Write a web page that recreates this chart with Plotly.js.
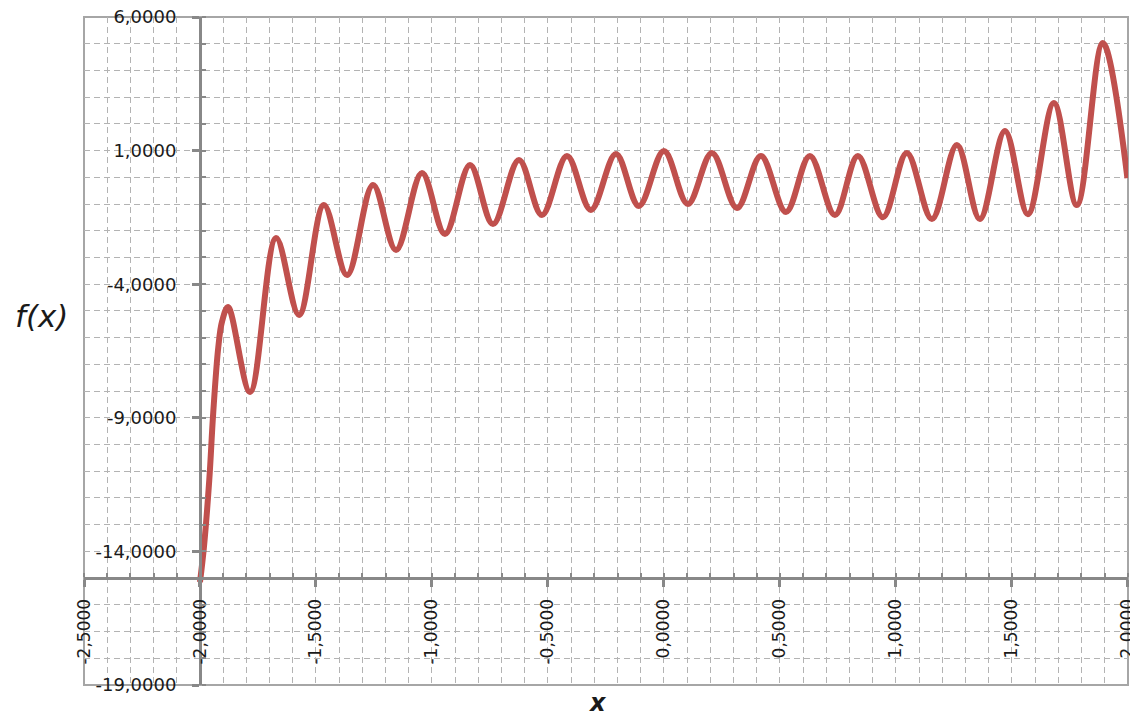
<!DOCTYPE html>
<html>
<head>
<meta charset="utf-8">
<script src="https://cdn.plot.ly/plotly-3.0.1.min.js"></script>
<style>
  html, body { margin: 0; padding: 0; background: #ffffff; }
  #chart { width: 1130px; height: 717px; }
</style>
</head>
<body>
<div id="chart"></div>
<script>
// ---- data ----
const xValues = [
  -2.000, -1.983, -1.960, -1.943, -1.921, -1.905, -1.879,
  -1.784, -1.672, -1.573, -1.466, -1.366, -1.254, -1.155,
  -1.043, -0.944, -0.836, -0.737, -0.625, -0.526, -0.418,
  -0.315, -0.207, -0.108, 0.000, 0.103, 0.207, 0.315,
  0.418, 0.526, 0.629, 0.737, 0.836, 0.944, 1.047,
  1.155, 1.263, 1.362, 1.470, 1.569, 1.681, 1.780,
  1.892, 1.998
];
const fValues = [
  -15.15, -13.84, -11.33, -8.82, -6.35, -5.40, -4.85,
  -8.03, -2.27, -5.15, -1.04, -3.66, -0.29, -2.72,
  0.16, -2.12, 0.46, -1.75, 0.65, -1.41, 0.80,
  -1.22, 0.87, -1.07, 0.985, -1.00, 0.91, -1.15,
  0.80, -1.30, 0.80, -1.41, 0.80, -1.49, 0.91,
  -1.56, 1.21, -1.56, 1.73, -1.38, 2.78, -1.04,
  5.03, -0.03
];

const xTickVals = [-2.5, -2.0, -1.5, -1.0, -0.5, 0.0, 0.5, 1.0, 1.5, 2.0];
const xTickText = ["-2,5000", "-2,0000", "-1,5000", "-1,0000", "-0,5000", "0,0000", "0,5000", "1,0000", "1,5000", "2,0000"];
const yTickVals = [-19, -14, -9, -4, 1, 6];
const yTickText = ["-19,0000", "-14,0000", "-9,0000", "-4,0000", "1,0000", "6,0000"];

const xRange = [-2.5, 2.0005];
const yRange = [-19, 6];
const xCross = -2.0;   // where the vertical axis crosses
const yCross = -15.0;  // where the horizontal axis crosses

// ---- styling ----
const axisGray = '#888888';
const gridGray = '#b3b3b3';
const gridDash = '6px,4px';
const yTickFont = { family: 'DejaVu Sans, Verdana, sans-serif', size: 18, color: '#1a1a1a' };
const xTickFont = { family: 'DejaVu Sans, Verdana, sans-serif', size: 17, color: '#1a1a1a' };

const trace = {
  x: xValues,
  y: fValues,
  type: 'scatter',
  mode: 'lines',
  line: { color: '#c0504d', width: 6, shape: 'spline', smoothing: 1 },
  hoverinfo: 'x+y',
  showlegend: false
};

const layout = {
  width: 1130,
  height: 717,
  margin: { l: 84, r: 2, t: 17, b: 32, pad: 0 },
  paper_bgcolor: '#ffffff',
  plot_bgcolor: '#ffffff',
  showlegend: false,
  xaxis: {
    range: xRange,
    tickmode: 'array',
    tickvals: xTickVals,
    ticktext: xTickText,
    tickangle: -90,
    tickfont: xTickFont,
    ticks: 'outside',
    ticklen: 7,
    tickwidth: 3,
    tickcolor: axisGray,
    ticklabelstandoff: 5,
    ticklabeloverflow: 'allow',
    anchor: 'free',
    position: (yCross - yRange[0]) / (yRange[1] - yRange[0]),
    showline: true,
    linecolor: axisGray,
    linewidth: 3,
    zeroline: false,
    showgrid: true,
    gridcolor: gridGray,
    gridwidth: 1,
    griddash: gridDash,
    minor: {
      tickmode: 'linear',
      tick0: 0,
      dtick: 0.1,
      ticks: 'inside',
      ticklen: 4,
      tickwidth: 2,
      tickcolor: axisGray,
      showgrid: true,
      gridcolor: gridGray,
      gridwidth: 1,
      griddash: gridDash
    },
    fixedrange: true
  },
  yaxis: {
    range: yRange,
    tickmode: 'array',
    tickvals: yTickVals,
    ticktext: yTickText,
    tickfont: yTickFont,
    ticks: 'outside',
    ticklen: 7,
    tickwidth: 3,
    tickcolor: axisGray,
    ticklabelstandoff: 12,
    anchor: 'free',
    position: (xCross - xRange[0]) / (xRange[1] - xRange[0]),
    showline: true,
    linecolor: axisGray,
    linewidth: 3,
    zeroline: false,
    showgrid: true,
    gridcolor: gridGray,
    gridwidth: 1,
    griddash: gridDash,
    minor: {
      tickmode: 'linear',
      tick0: 1,
      dtick: 1,
      ticks: 'inside',
      ticklen: 4,
      tickwidth: 2,
      tickcolor: axisGray,
      showgrid: true,
      gridcolor: gridGray,
      gridwidth: 1,
      griddash: gridDash
    },
    fixedrange: true
  },
  shapes: [{
    type: 'rect', xref: 'paper', yref: 'paper',
    x0: 0, x1: 1, y0: 0, y1: 1,
    line: { color: '#a6a6a6', width: 2 },
    layer: 'below'
  }],
  annotations: [
    {
      text: '<i>f(x)</i>',
      xref: 'paper', yref: 'paper',
      x: -0.041, y: 0.553,
      xanchor: 'center', yanchor: 'middle',
      showarrow: false,
      font: { family: 'DejaVu Sans, sans-serif', size: 31, color: '#1a1a1a' }
    },
    {
      text: '<b><i>x</i></b>',
      xref: 'paper', yref: 'paper',
      x: 0.492, y: -0.0265,
      xanchor: 'center', yanchor: 'middle',
      showarrow: false,
      font: { family: 'DejaVu Sans, sans-serif', size: 24, color: '#1a1a1a' }
    }
  ]
};

Plotly.newPlot('chart', [trace], layout, { displayModeBar: false, staticPlot: true });
</script>
</body>
</html>
